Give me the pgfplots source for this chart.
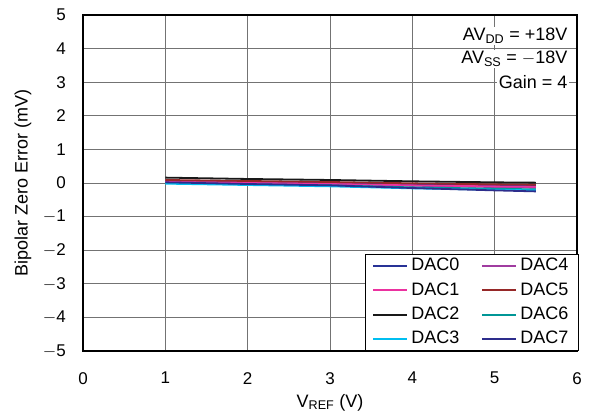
\documentclass[border=0pt]{standalone}
\usepackage{pgfplots}
\pgfplotsset{compat=1.18}
\usepackage{fontspec}
\setmainfont{Liberation Sans}
\definecolor{c0}{RGB}{40,50,150}
\definecolor{c1}{RGB}{235,50,160}
\definecolor{c2}{RGB}{25,25,25}
\definecolor{c3}{RGB}{0,190,240}
\definecolor{c4}{RGB}{160,60,160}
\definecolor{c5}{RGB}{150,40,40}
\definecolor{c6}{RGB}{0,150,150}
\definecolor{c7}{RGB}{45,45,140}
\newcommand{\fs}{\fontsize{17}{20}\selectfont}
\newcommand{\fl}{\fontsize{18}{21}\selectfont}
\pgfplotsset{
  legend image code/.code={\draw[#1,line width=2pt] (0pt,0pt) -- (34pt,0pt);},
}
\begin{document}
\fl
\begin{tikzpicture}
\begin{axis}[
  name=ax,
  scale only axis,
  width=494pt, height=336pt,
  xmin=0, xmax=6, ymin=-5, ymax=5,
  xtick={0,1,...,6}, ytick={-5,-4,...,5},
  yticklabels={$-$5,$-$4,$-$3,$-$2,$-$1,0,1,2,3,4,5},
  /pgf/number format/assume math mode=true,
  tick label style={font=\fs},
  yticklabel style={xshift=-11pt},
  xticklabel style={yshift=-15pt},
  label style={font=\fl},
  grid=major,
  major grid style={black!55, line width=0.9pt},
  tick style={draw=none},
  axis line style={line width=1.3pt},
  xlabel={V\textsubscript{REF} (V)},
  ylabel={Bipolar Zero Error (mV)},
  xlabel style={at={(axis description cs:0.5,0)}, anchor=base, yshift=-56pt},
  ylabel style={at={(axis description cs:-0.1215,0.5)}, anchor=center},
  legend columns=2,
  legend style={font=\fl, draw=black, line width=1pt, inner xsep=7pt, inner ysep=2pt, row sep=5pt, column sep=0pt, nodes={inner xsep=3pt}, /tikz/every even column/.append style={column sep=19pt}, at={(1.004,0)}, anchor=south east},
  legend cell align=left,
  every axis plot/.append style={line width=1.8pt},
]
\addplot[color=c0] coordinates {(1,0.05) (2,0.03) (3,0.0) (4,-0.04) (5,-0.06) (5.5,-0.07)};
\addlegendentry{DAC0}
\addplot[color=c4] coordinates {(1,0.06) (2,0.02) (3,-0.02) (4,-0.08) (5,-0.12) (5.5,-0.14)};
\addlegendentry{DAC4}
\addplot[color=c1] coordinates {(1,0.03) (2,0.0) (3,-0.03) (4,-0.07) (5,-0.1) (5.5,-0.11)};
\addlegendentry{DAC1}
\addplot[color=c5] coordinates {(1,0.09) (2,0.06) (3,0.03) (4,-0.01) (5,-0.04) (5.5,-0.05)};
\addlegendentry{DAC5}
\addplot[color=c2] coordinates {(1,0.16) (2,0.12) (3,0.09) (4,0.05) (5,0.02) (5.5,0.01)};
\addlegendentry{DAC2}
\addplot[color=c6] coordinates {(1,0.0) (2,-0.04) (3,-0.07) (4,-0.13) (5,-0.17) (5.5,-0.19)};
\addlegendentry{DAC6}
\addplot[color=c3] coordinates {(1,-0.02) (2,-0.06) (3,-0.1) (4,-0.16) (5,-0.2) (5.5,-0.22)};
\addlegendentry{DAC3}
\addplot[color=c7] coordinates {(1,0.02) (2,-0.03) (3,-0.07) (4,-0.15) (5,-0.22) (5.5,-0.25)};
\addlegendentry{DAC7}
\node[fill=white, anchor=base east, inner sep=1.5pt, font=\fl] at (axis cs:5.903,4.226) {AV\textsubscript{DD} = +18V};
\node[fill=white, anchor=base east, inner sep=1.5pt, font=\fl] at (axis cs:5.903,3.542) {AV\textsubscript{SS} = $-$18V};
\node[fill=white, anchor=base east, inner sep=1.5pt, font=\fl] at (axis cs:5.903,2.827) {Gain = 4};
\end{axis}
\pgfresetboundingbox
\path[use as bounding box] ([shift={(-83pt,-65pt)}]ax.south west) rectangle ([shift={(12pt,15pt)}]ax.north east);
\end{tikzpicture}
\end{document}
